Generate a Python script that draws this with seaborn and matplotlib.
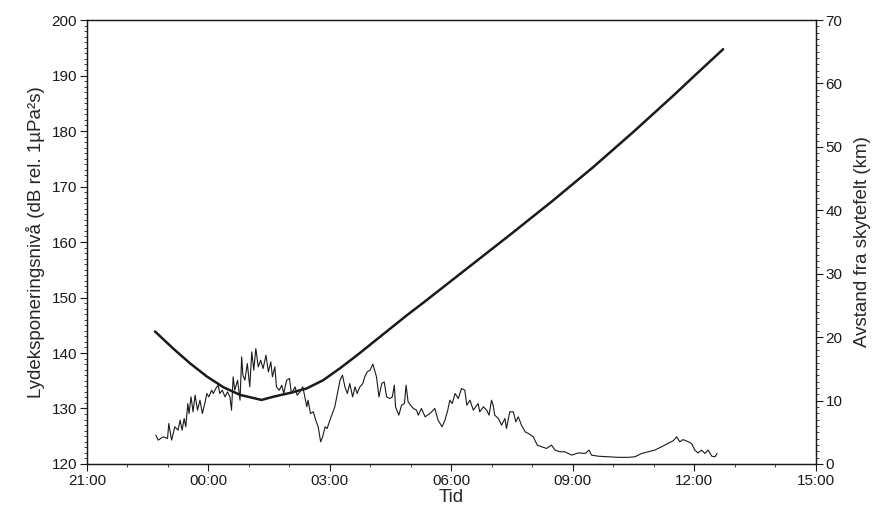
import numpy as np
import pandas as pd
import seaborn as sns
import matplotlib.pyplot as plt
from matplotlib.ticker import MultipleLocator

# hours after 21:00 and sound exposure level (dB)
lyd_tid = [1.70, 1.76, 1.88, 1.99, 2.02, 2.09, 2.17, 2.25, 2.30, 2.35, 2.40, 2.44,
           2.49, 2.52, 2.57, 2.62, 2.67, 2.73, 2.79, 2.85, 2.91, 2.96, 3.01, 3.08,
           3.12, 3.18, 3.24, 3.28, 3.34, 3.41, 3.47, 3.53, 3.57, 3.61, 3.65, 3.72,
           3.78, 3.82, 3.85, 3.90, 3.96, 4.02, 4.07, 4.12, 4.17, 4.23, 4.29, 4.35,
           4.42, 4.48, 4.54, 4.58, 4.64, 4.68, 4.75, 4.81, 4.86, 4.93, 5.00, 5.05,
           5.14, 5.19, 5.26, 5.33, 5.38, 5.43, 5.46, 5.52, 5.59, 5.65, 5.71, 5.77,
           5.82, 5.88, 5.93, 6.00, 6.12, 6.25, 6.31, 6.37, 6.43, 6.49, 6.56, 6.62,
           6.67, 6.74, 6.81, 6.86, 6.92, 6.99, 7.06, 7.15, 7.21, 7.28, 7.34, 7.40,
           7.48, 7.54, 7.59, 7.62, 7.70, 7.77, 7.84, 7.88, 7.93, 7.99, 8.06, 8.14,
           8.18, 8.26, 8.35, 8.47, 8.59, 8.67, 8.77, 8.84, 8.91, 8.96, 9.02, 9.09,
           9.17, 9.25, 9.33, 9.38, 9.46, 9.54, 9.66, 9.70, 9.79, 9.87, 9.93, 9.99,
           10.03, 10.07, 10.16, 10.24, 10.32, 10.36, 10.44, 10.53, 10.59, 10.65, 10.73, 10.82,
           10.90, 11.02, 11.12, 11.23, 11.35, 11.47, 11.56, 11.68, 11.80, 11.97, 12.13, 12.30,
           12.40, 12.46, 12.63, 12.87, 13.12, 13.37, 13.53, 13.70, 13.86, 14.02, 14.19, 14.35,
           14.48, 14.56, 14.64, 14.72, 14.85, 14.93, 15.01, 15.09, 15.18, 15.26, 15.34, 15.43,
           15.51, 15.56]
lyd_db = [125.2, 124.3, 124.9, 124.6, 127.3, 124.3, 126.7, 126.1, 127.9, 126.1, 128.2, 126.7,
          130.9, 129.1, 132.1, 129.4, 132.4, 129.7, 131.5, 129.1, 130.9, 132.7, 132.1, 133.3,
          132.7, 133.6, 134.2, 132.7, 133.3, 132.1, 133.0, 132.1, 129.7, 135.7, 133.3, 135.1,
          131.5, 139.3, 136.0, 135.1, 138.1, 133.9, 140.2, 136.9, 140.8, 137.5, 138.7, 137.2,
          139.6, 136.6, 138.4, 135.7, 137.5, 133.9, 133.3, 134.2, 132.7, 135.1, 135.4, 132.7,
          133.9, 132.4, 133.0, 133.9, 132.1, 130.3, 131.5, 129.1, 129.4, 127.9, 126.7, 124.0,
          124.9, 126.7, 126.4, 127.9, 130.3, 135.1, 136.0, 133.9, 132.7, 134.5, 132.1, 133.9,
          132.7, 133.9, 134.5, 135.7, 136.6, 136.9, 138.0, 135.7, 132.1, 134.5, 134.8, 132.1,
          131.8, 132.1, 134.2, 130.3, 128.8, 130.6, 130.9, 134.2, 131.2, 130.6, 130.0, 129.7,
          128.8, 130.0, 128.5, 129.1, 130.0, 127.9, 126.7, 127.9, 129.7, 131.5, 130.9, 132.7,
          131.8, 133.6, 133.3, 130.6, 131.5, 129.7, 130.9, 129.4, 130.3, 129.7, 128.8, 131.5,
          130.6, 128.8, 128.2, 127.0, 128.2, 126.4, 129.4, 129.4, 127.6, 128.5, 127.0, 125.8,
          125.5, 124.9, 123.4, 123.1, 122.8, 123.4, 122.5, 122.2, 122.2, 121.6, 122.0, 121.9,
          122.5, 121.6, 121.4, 121.3, 121.2, 121.2, 121.3, 121.9, 122.2, 122.5, 123.1, 123.7,
          124.2, 124.9, 124.0, 124.4, 124.0, 123.7, 122.5, 122.0, 122.5, 121.9, 122.5, 121.4,
          121.3, 121.9]

# distance from firing range (km)
avst_tid = [1.68, 2.13, 2.54, 2.96, 3.37, 3.78, 4.31, 4.60, 5.01, 5.42, 5.83, 6.25,
            6.66, 7.07, 7.48, 7.89, 8.30, 8.72, 9.50, 10.50, 11.50, 12.50, 13.50, 14.50,
            15.00, 15.71]
avst_km = [20.9, 18.2, 15.9, 13.8, 12.1, 10.9, 10.1, 10.6, 11.2, 11.9, 13.2, 15.1,
           17.1, 19.2, 21.3, 23.4, 25.4, 27.5, 31.4, 36.4, 41.5, 46.8, 52.4, 58.2,
           61.2, 65.4]

tick_tid = [0, 3, 6, 9, 12, 15, 18]
tick_labels = ['21:00', '00:00', '03:00', '06:00', '09:00', '12:00', '15:00']

lyd = pd.DataFrame({'tid': lyd_tid, 'db': lyd_db})
avst = pd.DataFrame({'tid': avst_tid, 'km': avst_km})

sns.set_style('ticks')
plt.rcParams['font.family'] = ['Liberation Sans', 'DejaVu Sans']

fig = plt.figure(figsize=(8.74, 5.2), dpi=100)
ax = fig.add_axes([0.0995, 0.1077, 0.834, 0.8538])
ax2 = ax.twinx()

sns.lineplot(data=lyd, x='tid', y='db', ax=ax, color='#1a1a1a', lw=0.8,
             sort=False, estimator=None)
sns.lineplot(data=avst, x='tid', y='km', ax=ax2, color='#1a1a1a', lw=1.8,
             sort=False, estimator=None)

ax.set_xlim(0, 18)
ax.set_ylim(120, 200)
ax2.set_ylim(0, 70)

ax.set_xticks(tick_tid)
ax.set_xticklabels(tick_labels)
ax.xaxis.set_minor_locator(MultipleLocator(1))
ax.yaxis.set_major_locator(MultipleLocator(10))
ax.yaxis.set_minor_locator(MultipleLocator(1))
ax2.yaxis.set_major_locator(MultipleLocator(10))
ax2.yaxis.set_minor_locator(MultipleLocator(1))

for a in (ax, ax2):
    a.tick_params(which='major', direction='out', length=5, width=0.8,
                  labelsize=11, colors='#1a1a1a', pad=2)
    a.tick_params(which='minor', direction='out', length=2.5, width=0.6)
    for s in a.spines.values():
        s.set_visible(True)
        s.set_linewidth(0.9)
        s.set_color('#1a1a1a')
ax.tick_params(axis='x', which='both', top=False)

ax.set_xlabel('Tid', fontsize=13.5, labelpad=1)
ax.set_ylabel('Lydeksponeringsnivå (dB rel. 1µPa²s)', fontsize=13.5, labelpad=5)
ax2.set_ylabel('Avstand fra skytefelt (km)', fontsize=13.5, labelpad=8)

fig.savefig('out.png', dpi=100)
